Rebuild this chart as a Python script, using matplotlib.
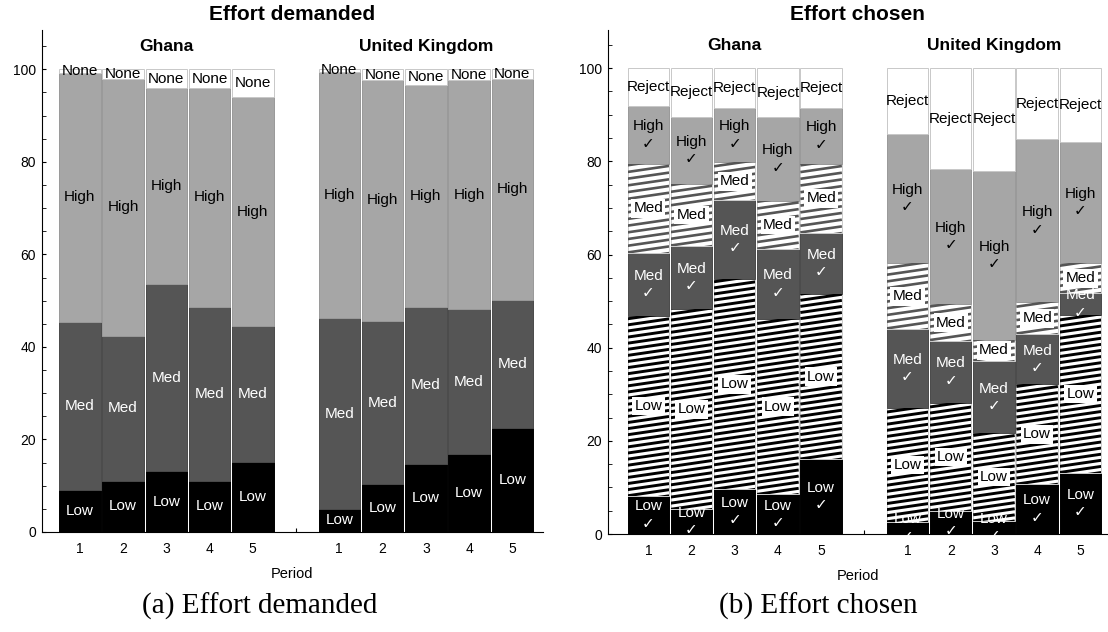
import numpy as np
import matplotlib
matplotlib.use('Agg')
import matplotlib.pyplot as plt
from matplotlib.collections import LineCollection
from matplotlib.ticker import MultipleLocator

plt.rcParams['font.family'] = ['Liberation Sans', 'DejaVu Sans']

periods = [1, 2, 3, 4, 5]
countries = ['Ghana', 'United Kingdom']

# effort demanded (% of contracts), rows = Ghana, United Kingdom
dem_low = [[9.1, 11.1, 13.1, 11.1, 15.2], [5.0, 10.3, 14.8, 16.8, 22.4]]
dem_med = [[36.3, 31.3, 40.4, 37.5, 29.3], [41.2, 35.3, 33.9, 31.3, 27.7]]
dem_high = [[53.9, 55.6, 42.5, 47.4, 49.5], [53.3, 52.1, 48.0, 49.6, 47.9]]
dem_none = [[0.7, 2.0, 4.0, 4.0, 6.0], [0.5, 2.3, 3.3, 2.3, 2.0]]

# effort chosen (%), "ok" = chosen level matches what was demanded
cho_low_ok = [[8.2, 5.3, 9.6, 8.5, 16.1], [2.6, 5.0, 2.8, 10.7, 13.2]]
cho_low = [[38.6, 42.9, 45.1, 37.7, 35.4], [24.5, 23.1, 18.8, 21.4, 33.8]]
cho_med_ok = [[13.5, 13.6, 16.9, 14.9, 13.1], [16.9, 13.4, 15.5, 10.8, 4.7]]
cho_med = [[19.2, 13.3, 8.2, 10.4, 14.9], [14.1, 7.8, 4.6, 6.8, 6.4]]
cho_high_ok = [[12.3, 14.5, 11.7, 18.0, 11.9], [27.7, 29.0, 36.3, 35.0, 26.1]]
cho_reject = [[8.2, 10.4, 8.5, 10.5, 8.6], [14.2, 21.7, 22.0, 15.3, 15.8]]

LGRAY = '#a6a6a6'
DGRAY = '#555555'
W = 0.96
SLOPE = 1.3   # rise of a stripe across one bar, in % units


def stripes(ax, bar, color, gap, lw):
    x0 = bar.get_x()
    x1 = x0 + bar.get_width()
    y0 = bar.get_y()
    y1 = y0 + bar.get_height()
    offs = np.arange(y0 - SLOPE, y1 + gap, gap)
    segs = [[(x0, y), (x1, y + SLOPE)] for y in offs]
    lc = LineCollection(segs, colors=color, linewidths=lw, zorder=2)
    ax.add_collection(lc, autolim=False)
    # clip to the bar outline so stripes stay inside their own segment
    lc.set_clip_path(bar.get_path(), bar.get_transform())


def setup(ax, title, ytop):
    ax.set_xlim(ax_xlim[ax])
    ax.set_ylim(0, ytop)
    ax.spines['top'].set_visible(False)
    ax.spines['right'].set_visible(False)
    ax.set_axisbelow(True)
    ax.yaxis.set_major_locator(MultipleLocator(20))
    ax.yaxis.set_minor_locator(MultipleLocator(5))
    ax.tick_params(axis='y', which='major', direction='in', length=3.2, pad=4, labelsize=10)
    ax.tick_params(axis='y', which='minor', direction='in', length=2.7)
    ax.set_xticks(range(1, 12))
    ax.set_xticklabels([str(p) for p in periods] + [''] + [str(p) for p in periods])
    ax.tick_params(axis='x', direction='in', length=3, pad=7, labelsize=10)
    ax.text(0.5, 1.03, title, transform=ax.transAxes, ha='center', va='center',
            fontsize=15, fontweight='bold')
    for ci, c in enumerate(countries):
        ax.text(3 + 6 * ci, 104.9, c, ha='center', va='center', fontsize=12.5, fontweight='bold')
    ax.set_xlabel('Period', fontsize=10.5)
    ax.xaxis.set_label_coords(0.5, -0.07)


fig = plt.figure(figsize=(11.08, 6.32), dpi=100)
ax1 = fig.add_axes([0.03764, 0.15823, 0.45244, 0.79430])
ax2 = fig.add_axes([0.54847, 0.15506, 0.45154, 0.79747])
ax_xlim = {ax1: (0.12, 11.71), ax2: (0.06, 11.64)}

# left: effort demanded
dem_vals = [dem_low, dem_med, dem_high, dem_none]
dem_names = ['Low', 'Med', 'High', 'None']
dem_fc = ['black', DGRAY, LGRAY, 'white']
dem_ec = ['black', '#4a4a4a', '#999999', '#c8c8c8']
dem_tc = ['white', 'white', 'black', 'black']

for ci in range(2):
    xs = np.array(periods) + 6 * ci
    bottom = np.zeros(len(periods))
    for vals, name, fc, ec, tc in zip(dem_vals, dem_names, dem_fc, dem_ec, dem_tc):
        v = np.array(vals[ci])
        bars = ax1.bar(xs, v, width=W, bottom=bottom, color=fc, edgecolor=ec, linewidth=0.7)
        for b, val, y0 in zip(bars, v, bottom):
            ax1.text(b.get_x() + W / 2, y0 + val / 2, name, ha='center', va='center',
                     color=tc, fontsize=11, zorder=4)
        bottom += v

# right: effort chosen
cho_vals = [cho_low_ok, cho_low, cho_med_ok, cho_med, cho_high_ok, cho_reject]
cho_names = ['Low\n✓', 'Low', 'Med\n✓', 'Med', 'High\n✓', 'Reject']
cho_fc = ['black', 'white', DGRAY, 'white', LGRAY, 'white']
cho_ec = ['black', '#cccccc', '#4a4a4a', '#cccccc', '#999999', '#c8c8c8']
cho_tc = ['white', 'black', 'white', 'black', 'black', 'black']
cho_hatch = [None, ('black', 1.31, 2.1), None, (DGRAY, 1.44, 1.9), None, None]

for ci in range(2):
    xs = np.array(periods) + 6 * ci
    bottom = np.zeros(len(periods))
    for vals, name, fc, ec, tc, h in zip(cho_vals, cho_names, cho_fc, cho_ec, cho_tc, cho_hatch):
        v = np.array(vals[ci])
        bars = ax2.bar(xs, v, width=W, bottom=bottom, color=fc, edgecolor=ec, linewidth=0.7)
        for b, val, y0 in zip(bars, v, bottom):
            box = None
            if h is not None:
                stripes(ax2, b, h[0], h[1], h[2])
                box = dict(boxstyle='square,pad=0.15', fc='white', ec='none')
            ax2.text(b.get_x() + W / 2, y0 + val / 2, name, ha='center', va='center',
                     color=tc, fontsize=11, linespacing=1.3, bbox=box, zorder=4)
        bottom += v

setup(ax1, 'Effort demanded', 108.5)
setup(ax2, 'Effort chosen', 108.2)

fig.text(260 / 1108, 1 - 606 / 632, '(a) Effort demanded', family='Liberation Serif',
         fontsize=21, ha='center', va='center')
fig.text(818 / 1108, 1 - 606 / 632, '(b) Effort chosen', family='Liberation Serif',
         fontsize=21, ha='center', va='center')

fig.savefig('out.png', dpi=100)
